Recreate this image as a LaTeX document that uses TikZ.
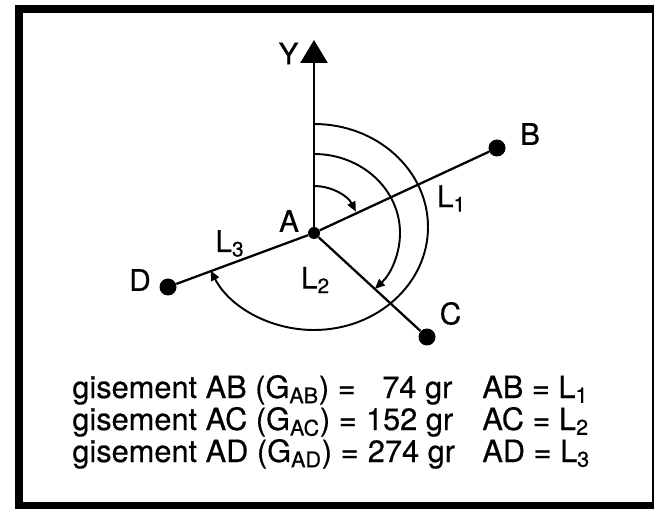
\documentclass[tikz,border=0pt]{standalone}
\usepackage{fontspec}
\setmainfont{TeX Gyre Heros}[FakeBold=0.5]
\usetikzlibrary{arrows.meta}
\newcommand{\legendrow}[3]{\makebox[7.6cm][l]{#1\hspace{0.3em}\hfill#2}\hspace{0.6cm}#3}

\begin{document}
\begin{tikzpicture}[
    dot/.style={circle, fill, inner sep=0pt, minimum size=0.34cm},
    seg/.style={line width=1.3pt},
    yaxis/.style={-{Triangle[length=0.46cm,width=0.54cm]}, line width=1.6pt},
    turn/.style={-{Triangle[length=0.2cm,width=0.17cm]}, line width=1.1pt},
    lbl/.style={font=\fontsize{17}{17}\selectfont, inner sep=0pt},
    row/.style={anchor=base west, inner sep=0pt, font=\fontsize{17.5}{18}\selectfont}
]
    \useasboundingbox (0,0) rectangle (13.08,10.16);
    \draw[line width=0.16cm] (0.38,0.04) rectangle (13.12,9.98);

    \node[dot, minimum size=0.24cm] (a) at (6.28,5.50) {};
    \node[dot] (b) at (9.94,7.20) {};
    \node[dot] (c) at (8.54,3.42) {};
    \node[dot] (d) at (3.36,4.42) {};
    \coordinate (ytop) at (6.28,9.36);

    \draw[yaxis] (a) -- (ytop);
    \draw[seg] (a) -- (b);
    \draw[seg] (a) -- (c);
    \draw[seg] (a) -- (d);

    \draw[turn] (a.center) ++(0,0.94) arc[start angle=90, end angle=27, radius=0.94cm];
    \draw[turn] (a.center) ++(0,1.58) arc[start angle=90, end angle=-45, x radius=1.72cm, y radius=1.58cm];
    \draw[turn] (a.center) ++(0,2.18) arc[start angle=90, end angle=-155, x radius=2.28cm, y radius=2.06cm];

    \node[lbl] (ylbl) at (5.77,9.09) {Y};
    \node[lbl] (albl) at (5.78,5.74) {A};
    \node[lbl] (blbl) at (10.60,7.48) {B};
    \node[lbl] (clbl) at (9.01,3.89) {C};
    \node[lbl] (dlbl) at (2.80,4.56) {D};
    \node[lbl] (l1) at (9.03,6.19) {L\textsubscript{1}};
    \node[lbl] (l2) at (6.31,4.56) {L\textsubscript{2}};
    \node[lbl] (l3) at (4.60,5.29) {L\textsubscript{3}};

    \node[row] (rowab) at (1.44,2.20) {\legendrow{gisement AB (G\textsubscript{AB}) =}{74 gr}{AB = L\textsubscript{1}}};
    \node[row] (rowac) at (1.44,1.56) {\legendrow{gisement AC (G\textsubscript{AC}) =}{152 gr}{AC = L\textsubscript{2}}};
    \node[row] (rowad) at (1.44,0.92) {\legendrow{gisement AD (G\textsubscript{AD}) =}{274 gr}{AD = L\textsubscript{3}}};
\end{tikzpicture}
\end{document}
